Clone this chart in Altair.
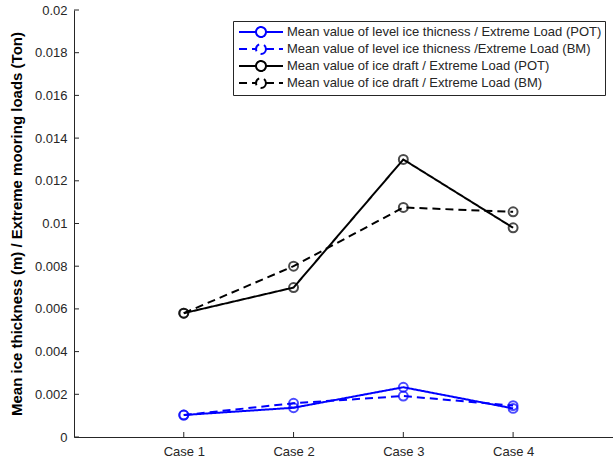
import altair as alt
import pandas as pd

# Load case labels and mean values for each series
cases = ["Case 1", "Case 2", "Case 3", "Case 4"]
series_names = [
    "Mean value of level ice thicness / Extreme Load (POT)",
    "Mean value of level ice thicness /Extreme Load (BM)",
    "Mean value of ice draft / Extreme Load (POT)",
    "Mean value of ice draft / Extreme Load (BM)",
]
level_pot = [0.00103, 0.00137, 0.00233, 0.00134]
level_bm = [0.00103, 0.00158, 0.00192, 0.00147]
draft_pot = [0.0058, 0.0070, 0.0130, 0.0098]
draft_bm = [0.0058, 0.0080, 0.01075, 0.01055]
y_ticks = [0, 0.002, 0.004, 0.006, 0.008, 0.01, 0.012, 0.014, 0.016, 0.018, 0.02]

series_values = [level_pot, level_bm, draft_pot, draft_bm]
rows = []
for name, vals in zip(series_names, series_values):
    for i, (c, v) in enumerate(zip(cases, vals)):
        rows.append({"case": c, "idx": i + 1, "series": name, "value": v})
df = pd.DataFrame(rows)

W, H = 539, 427
FONT = "Liberation Sans"
AXIS_COLOR = "#262626"
series_colors = ["#0000ff", "#0000ff", "#000000", "#000000"]

x_scale = alt.Scale(domain=[0, 4.91], nice=False, zero=False)
y_scale = alt.Scale(domain=[0, 0.02], nice=False)

# Legend glyph: a line segment interrupted by an open circle marker
legend_glyph = (
    "M-3.14,0L-0.71,0M0.71,0L3.14,0"
    "M0.71,0A0.71,0.71,0,1,1,-0.71,0A0.71,0.71,0,1,1,0.71,0"
)

color = alt.Color(
    "series:N",
    scale=alt.Scale(domain=series_names, range=series_colors),
    legend=alt.Legend(
        title=None,
        orient="none",
        legendX=159,
        legendY=11,
        strokeColor=AXIS_COLOR,
        fillColor="white",
        padding=3,
        labelFont=FONT,
        labelFontSize=13,
        labelColor=AXIS_COLOR,
        labelLimit=400,
        labelOffset=18,
        rowPadding=-2,
        symbolType=legend_glyph,
        symbolSize=196,
        symbolStrokeWidth=2,
        symbolFillColor="transparent",
        symbolOffset=17,
    ),
)
dash = alt.StrokeDash(
    "series:N",
    scale=alt.Scale(domain=series_names, range=[[1, 0], [8, 5], [1, 0], [8, 5]]),
    legend=None,
)

x_axis = alt.Axis(
    values=[1, 2, 3, 4],
    labelExpr="'Case ' + datum.value",
    ticks=False,
    grid=False,
    domainColor=AXIS_COLOR,
    labelColor=AXIS_COLOR,
    labelFont=FONT,
    labelFontSize=13,
    labelPadding=8,
    title=None,
)
y_axis = alt.Axis(
    values=y_ticks,
    format="~g",
    ticks=False,
    grid=False,
    domainColor=AXIS_COLOR,
    labelColor=AXIS_COLOR,
    labelFont=FONT,
    labelFontSize=13,
    labelPadding=7,
    title="Mean ice thickness (m) / Extreme mooring loads (Ton)",
    titleFont=FONT,
    titleFontSize=15,
    titleFontWeight="bold",
    titleColor="#000000",
    titleAngle=-90,
    titleX=-58,
    titleY=H / 2,
    titleAlign="center",
    titleBaseline="middle",
)

base = alt.Chart(df)

lines = base.mark_line(strokeWidth=2).encode(
    x=alt.X("idx:Q", scale=x_scale, axis=x_axis),
    y=alt.Y("value:Q", scale=y_scale, axis=y_axis),
    color=color,
    strokeDash=dash,
    detail="series:N",
)

points = base.mark_point(shape="circle", filled=False, size=80, strokeWidth=2).encode(
    x=alt.X("idx:Q", scale=x_scale),
    y=alt.Y("value:Q", scale=y_scale),
    color=alt.Color("series:N", scale=alt.Scale(domain=series_names, range=series_colors), legend=None),
)

# Inward-pointing tick marks on both axes
ytick_df = pd.DataFrame({"v": y_ticks})
yticks = alt.Chart(ytick_df).mark_rule(color=AXIS_COLOR, strokeWidth=1).encode(
    y=alt.Y("v:Q", scale=y_scale),
    x=alt.value(0),
    x2=alt.value(5),
)
xtick_df = pd.DataFrame({"v": [1, 2, 3, 4]})
xticks = alt.Chart(xtick_df).mark_rule(color=AXIS_COLOR, strokeWidth=1).encode(
    x=alt.X("v:Q", scale=x_scale),
    y=alt.value(H),
    y2=alt.value(H - 5),
)

chart = (
    alt.layer(yticks, xticks, lines, points)
    .properties(
        width=W,
        height=H,
        padding={"left": 74, "top": 10, "right": 0, "bottom": 26},
        autosize="none",
        background="white",
    )
    .configure_view(stroke=None)
)

chart.save("out.html", embed_options={"renderer": "svg", "actions": False})
